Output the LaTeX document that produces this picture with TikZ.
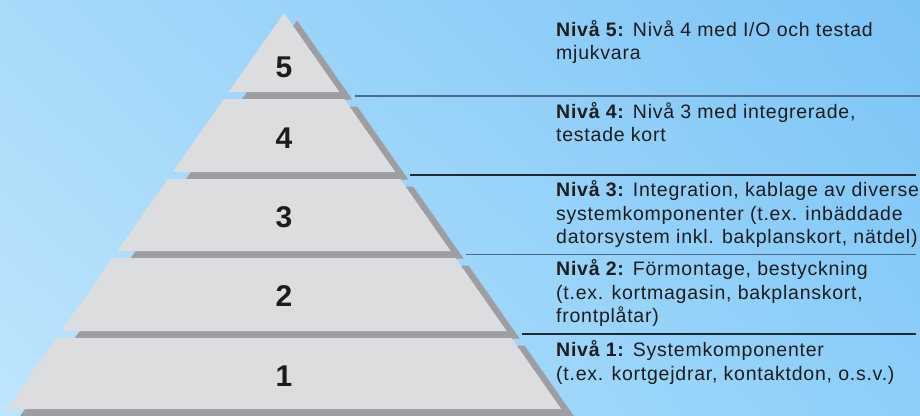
\documentclass[tikz,border=0pt]{standalone}
\usepackage{fontspec}
\setmainfont{Liberation Sans}
\newfontfamily\descfont[LetterSpace=3.9]{Liberation Sans}
\usetikzlibrary{shadings}
\definecolor{bgul}{RGB}{168,218,250}
\definecolor{bgur}{RGB}{124,196,246}
\definecolor{bgll}{RGB}{190,229,253}
\definecolor{bglr}{RGB}{140,207,249}
\definecolor{tierface}{RGB}{220,221,223}
\definecolor{tiershade}{RGB}{157,158,162}
\definecolor{sepline}{RGB}{34,40,48}
\definecolor{sepslate}{RGB}{76,106,134}
\definecolor{inkdark}{RGB}{28,28,28}
\begin{document}
\begin{tikzpicture}[x=1pt, y=-1pt,
    tier/.style={fill=tierface},
    tiershadow/.style={fill=tiershade, shift={(13,7.5)}},
    sep/.style={draw=sepline, line width=1.1pt},
    sepsoft/.style={draw=sepslate, line width=1.6pt},
    lvl/.style={font=\fontsize{30}{30}\selectfont\bfseries, text=inkdark, inner sep=0pt},
    desc/.style={font=\descfont\fontsize{19.5}{23.4}\selectfont, text=inkdark, align=left, anchor=base west, inner sep=0pt}]
    \useasboundingbox (0,0) rectangle (920,415);
    % Background
    \shade[upper left=bgul, upper right=bgur, lower left=bgll, lower right=bglr] (0,0) rectangle (920,415);

    \begin{scope}
    \clip (0,0) rectangle (920,415);
    % Shadows behind the tiers
    \fill[tiershadow] (284,13) -- (339.3,92) -- (228.7,92) -- cycle;
    \fill[tiershadow] (223.8,99) -- (344.2,99) -- (395.3,172) -- (172.7,172) -- cycle;
    \fill[tiershadow] (167.8,179) -- (400.2,179) -- (450.6,251) -- (117.4,251) -- cycle;
    \fill[tiershadow] (112.5,258) -- (455.5,258) -- (506.6,331) -- (61.4,331) -- cycle;
    \fill[tiershadow] (56.5,338) -- (511.5,338) -- (561.2,409) -- (6.8,409) -- cycle;

    % Tiers
    \fill[tier] (284,13) -- (339.3,92) -- (228.7,92) -- cycle;
    \fill[tier] (223.8,99) -- (344.2,99) -- (395.3,172) -- (172.7,172) -- cycle;
    \fill[tier] (167.8,179) -- (400.2,179) -- (450.6,251) -- (117.4,251) -- cycle;
    \fill[tier] (112.5,258) -- (455.5,258) -- (506.6,331) -- (61.4,331) -- cycle;
    \fill[tier] (56.5,338) -- (511.5,338) -- (561.2,409) -- (6.8,409) -- cycle;
    \end{scope}

    % Level numbers
    \node[lvl] (n5) at (284,67) {5};
    \node[lvl] (n4) at (284,138) {4};
    \node[lvl] (n3) at (284,217) {3};
    \node[lvl] (n2) at (284,296) {2};
    \node[lvl] (n1) at (284,376) {1};

    % Separator lines
    \coordinate (s1a) at (355,96);  \coordinate (s1b) at (920,96);
    \coordinate (s2a) at (410,175); \coordinate (s2b) at (916,175);
    \coordinate (s3a) at (466,254.5); \coordinate (s3b) at (916,254.5);
    \coordinate (s4a) at (522,334); \coordinate (s4b) at (916,334);
    \draw[sepsoft] (s1a) -- (s1b);
    \draw[sep] (s2a) -- (s2b);
    \draw[sepsoft] (s3a) -- (s3b);
    \draw[sep] (s4a) -- (s4b);

    % Descriptions (anchored at the baseline of the last line)
    \node[desc] (d5) at (556,59.8) {\textbf{Nivå 5:} Nivå 4 med I/O och testad\\mjukvara};
    \node[desc] (d4) at (556,141.7) {\textbf{Nivå 4:} Nivå 3 med integrerade,\\testade kort};
    \node[desc] (d3) at (556,243.5) {\textbf{Nivå 3:} Integration, kablage av diverse\\systemkomponenter (t.ex. inbäddade\\datorsystem inkl. bakplanskort, nätdel)};
    \node[desc] (d2) at (556,322.7) {\textbf{Nivå 2:} Förmontage, bestyckning\\(t.ex. kortmagasin, bakplanskort,\\frontplåtar)};
    \node[desc] (d1) at (556,380.1) {\textbf{Nivå 1:} Systemkomponenter\\(t.ex. kortgejdrar, kontaktdon, o.s.v.)};
\end{tikzpicture}
\end{document}
